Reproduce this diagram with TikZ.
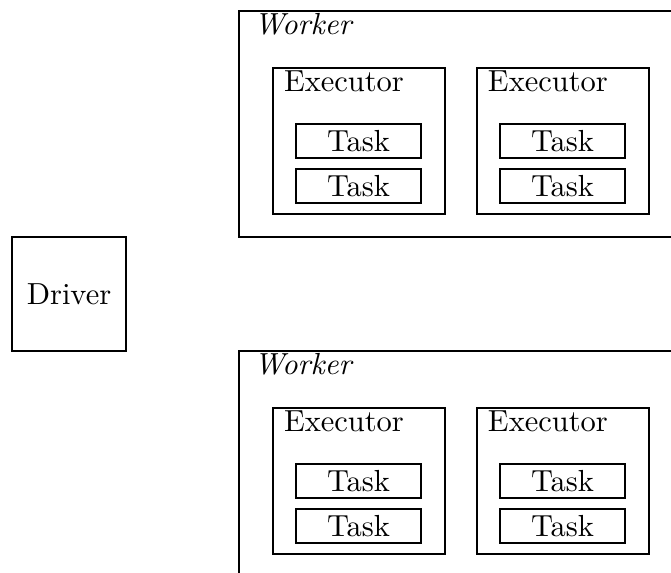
\documentclass[tikz,border=0pt]{standalone}
\newdimen\px \px=0.328pt
\tikzset{
  box/.style={draw, rectangle, inner sep=0pt, outer sep=0pt, anchor=north west},
  lbl/.style={anchor=base west, inner sep=0pt, outer sep=0pt},
}
\begin{document}
\begin{tikzpicture}[x=0.328pt, y=-0.328pt]
\useasboundingbox (0,0) rectangle (671,573);
\clip (0,0) rectangle (671,573);
\node[box, minimum width=114\px, minimum height=114\px] (driver) at (12,237) {Driver};
\foreach \dy/\n in {0/1,340/2}{
  \node[box, minimum width=442\px, minimum height=226\px] (worker\n) at (239,11+\dy) {};
  \node[lbl] (workerlabel\n) at (254,35+\dy) {\itshape Worker};
  \foreach \dx/\m in {0/1,204/2}{
    \node[box, minimum width=172\px, minimum height=146\px] (exec\n\m) at (273+\dx,68+\dy) {};
    \node[lbl] (execlabel\n\m) at (284+\dx,92+\dy) {Executor};
    \node[box, minimum width=125\px, minimum height=34\px] (taskA\n\m) at (296+\dx,124+\dy) {Task};
    \node[box, minimum width=125\px, minimum height=34\px] (taskB\n\m) at (296+\dx,169+\dy) {Task};
  }
}
\end{tikzpicture}
\end{document}
